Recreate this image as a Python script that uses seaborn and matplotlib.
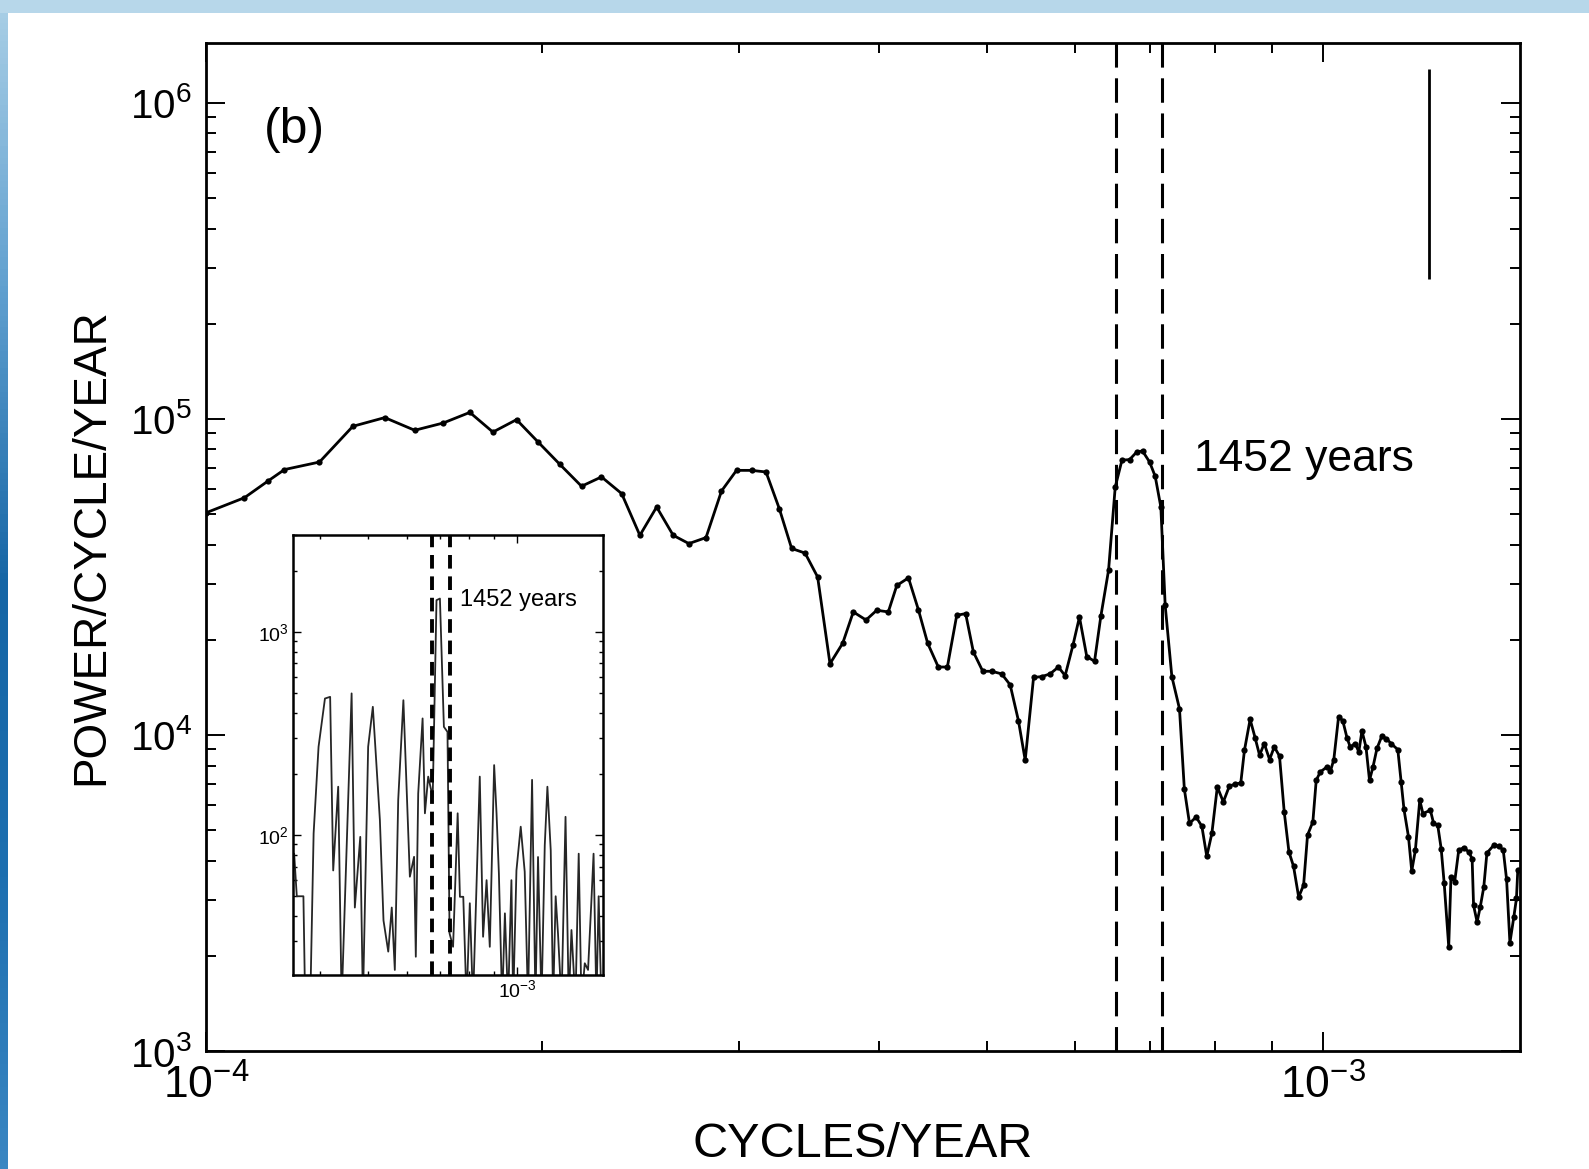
import numpy as np
import matplotlib
matplotlib.use('Agg')
import matplotlib.pyplot as plt
import matplotlib.ticker as mticker
from matplotlib.colors import LinearSegmentedColormap
import seaborn as sns

# Main smoothed spectrum, frequency in units of 1e-4 cycles/year
freq_e4 = [1.00, 1.083, 1.137, 1.176, 1.264, 1.354, 1.446, 1.538, 1.631, 1.723,
           1.807, 1.897, 1.983, 2.074, 2.169, 2.260, 2.356, 2.446, 2.532, 2.620,
           2.706, 2.803, 2.894, 2.985, 3.079, 3.172, 3.260, 3.344, 3.438, 3.528,
           3.619, 3.715, 3.797, 3.898, 3.985, 4.081, 4.153, 4.254, 4.342, 4.426,
           4.524, 4.609, 4.699, 4.786, 4.863, 4.958, 5.051, 5.155, 5.246, 5.336,
           5.411, 5.505, 5.600, 5.696, 5.794, 5.875, 5.970, 6.051, 6.143, 6.242,
           6.323, 6.425, 6.514, 6.605, 6.709, 6.810, 6.891, 6.992, 7.073, 7.156,
           7.220, 7.320, 7.436, 7.511, 7.591, 7.696, 7.787, 7.866, 7.949, 8.039,
           8.139, 8.241, 8.339, 8.437, 8.501, 8.601, 8.689, 8.770, 8.855, 8.953,
           9.040, 9.138, 9.227, 9.317, 9.406, 9.506, 9.603, 9.681, 9.788, 9.856,
           9.940, 10.08, 10.15, 10.22, 10.32, 10.41, 10.50, 10.57, 10.68, 10.76,
           10.83, 10.92, 11.00, 11.08, 11.17, 11.28, 11.39, 11.50, 11.66, 11.74,
           11.81, 11.92, 12.00, 12.09, 12.20, 12.28, 12.47, 12.55, 12.66, 12.75,
           12.83, 12.95, 13.01, 13.11, 13.22, 13.36, 13.49, 13.59, 13.63, 13.73,
           13.82, 13.92, 14.01, 14.21, 14.36, 14.49, 14.59, 14.69, 14.81, 14.89,
           14.93]
power = [5.04e4, 5.63e4, 6.36e4, 6.91e4, 7.30e4, 9.47e4, 1.009e5, 9.20e4, 9.70e4, 1.048e5,
         9.08e4, 9.94e4, 8.45e4, 7.18e4, 6.12e4, 6.55e4, 5.80e4, 4.28e4, 5.26e4, 4.28e4,
         4.03e4, 4.21e4, 5.91e4, 6.87e4, 6.87e4, 6.79e4, 5.20e4, 3.89e4, 3.76e4, 3.16e4,
         1.68e4, 1.95e4, 2.45e4, 2.31e4, 2.48e4, 2.45e4, 2.97e4, 3.14e4, 2.49e4, 1.95e4,
         1.64e4, 1.64e4, 2.39e4, 2.42e4, 1.83e4, 1.59e4, 1.59e4, 1.56e4, 1.44e4, 1.11e4,
         8.32e3, 1.52e4, 1.53e4, 1.56e4, 1.64e4, 1.54e4, 1.92e4, 2.36e4, 1.77e4, 1.71e4,
         2.37e4, 3.32e4, 6.09e4, 7.40e4, 7.43e4, 7.86e4, 7.91e4, 7.30e4, 6.58e4, 5.26e4,
         2.57e4, 1.53e4, 1.21e4, 6.74e3, 5.25e3, 5.50e3, 5.14e3, 4.13e3, 4.88e3, 6.85e3,
         6.14e3, 6.89e3, 6.99e3, 7.05e3, 8.94e3, 1.12e4, 9.81e3, 8.63e3, 9.39e3, 8.36e3,
         9.17e3, 8.57e3, 5.71e3, 4.27e3, 3.84e3, 3.07e3, 3.35e3, 4.82e3, 5.31e3, 7.19e3,
         7.64e3, 7.93e3, 7.69e3, 8.36e3, 1.14e4, 1.11e4, 9.81e3, 9.17e3, 9.39e3, 8.84e3,
         1.03e4, 9.17e3, 7.19e3, 7.93e3, 9.06e3, 9.90e3, 9.74e3, 9.39e3, 8.99e3, 7.10e3,
         5.81e3, 4.76e3, 3.71e3, 4.32e3, 6.22e3, 5.64e3, 5.78e3, 5.27e3, 5.18e3, 4.37e3,
         3.39e3, 2.14e3, 3.56e3, 3.43e3, 4.32e3, 4.40e3, 4.27e3, 4.06e3, 2.89e3, 2.56e3,
         2.86e3, 3.30e3, 4.23e3, 4.48e3, 4.45e3, 4.32e3, 3.49e3, 2.20e3, 2.66e3, 3.04e3,
         3.73e3]

# Inset: raw periodogram (frequency in units of 1e-4)
inset_freq_e4 = [3.554, 3.598, 3.71, 3.74, 3.83, 3.89, 3.98, 4.10, 4.20, 4.26,
                 4.36, 4.43, 4.64, 4.71, 4.83, 4.89, 5.01, 5.12, 5.29, 5.38,
                 5.50, 5.59, 5.67, 5.76, 5.90, 6.08, 6.20, 6.25, 6.32, 6.45,
                 6.52, 6.62, 6.76, 6.88, 6.99, 7.12, 7.24, 7.31, 7.43, 7.59,
                 7.67, 7.79, 7.91, 8.03, 8.15, 8.41, 8.54, 8.68, 8.81, 8.99,
                 9.09, 9.19, 9.33, 9.45, 9.59, 9.74, 9.82, 9.97, 10.17, 10.36,
                 10.52, 10.72, 10.89, 11.02, 11.20, 11.37, 11.51, 11.69, 11.82, 11.96,
                 12.09, 12.29, 12.52, 12.71, 12.87, 13.11, 13.31, 13.48, 13.69, 13.90,
                 14.12, 14.26, 14.45, 14.60, 14.79]
inset_power = [81, 50, 50, 15, 15, 102, 272, 470, 479, 67,
               173, 15, 498, 44, 98, 15, 272, 428, 119, 38,
               26.7, 44, 21.7, 149, 461, 62.4, 78.2, 25.2, 160, 375,
               128, 194, 154, 1432, 1459, 341, 322, 32.8, 28.2, 128,
               49.7, 49.7, 15, 46.2, 15, 194, 31.6, 60, 28.2, 221,
               128, 64.8, 15, 41.2, 15, 60, 15, 67, 110, 66,
               15, 187, 15, 78, 15, 89, 173, 84, 15, 50,
               32.8, 15, 123, 15, 34.1, 15, 81, 15, 23.4, 21.7,
               47.9, 81, 15, 50, 15]

freq = np.array(freq_e4) * 1e-4
inset_freq = np.array(inset_freq_e4) * 1e-4

band = [6.52e-4, 7.18e-4]
inset_band = [6.73e-4, 7.31e-4]
err_x = 1.244e-3
err_range = [2.77e5, 1.276e6]

sns.set_theme(style='ticks')
plt.rcParams['font.family'] = ['Liberation Sans', 'DejaVu Sans']
plt.rcParams['mathtext.fontset'] = 'custom'
plt.rcParams['mathtext.rm'] = 'Liberation Sans'
plt.rcParams['mathtext.it'] = 'Liberation Sans:italic'
plt.rcParams['mathtext.bf'] = 'Liberation Sans:bold'
for key in ['text.color', 'axes.labelcolor', 'xtick.color', 'ytick.color']:
    plt.rcParams[key] = 'black'

fig = plt.figure(figsize=(15.89, 11.69), dpi=100, facecolor='white')

# slide background strips (left gradient, top band)
bg = LinearSegmentedColormap.from_list('bg', ['#a9cfe6', '#5f9fcf', '#1565a5', '#1d6fb0', '#3a86c2'])
left = fig.add_axes([0, 0, 8 / 1589, 1])
left.imshow(np.linspace(0, 1, 200).reshape(-1, 1), aspect='auto', cmap=bg)
left.axis('off')
top = fig.add_axes([0, 1 - 13 / 1169, 1, 13 / 1169])
top.set_facecolor('#b7d7ea')
top.set_xticks([]); top.set_yticks([])
for s in top.spines.values():
    s.set_visible(False)

ax = fig.add_axes([0.1295, 0.1009, 0.8271, 0.8627])
sns.lineplot(x=freq, y=power, ax=ax, color='black', lw=2, marker='o', markersize=4.5,
             markeredgewidth=0, sort=False, estimator=None)
ax.set_xscale('log')
ax.set_yscale('log')
ax.set_xlim(1e-4, 1.5e-3)
ax.set_ylim(1e3, 1.55e6)

for b in band:
    ax.axvline(b, color='black', lw=2.2, dashes=(8, 3.5))
ax.vlines(err_x, err_range[0], err_range[1], color='black', lw=2)

ax.text(0.044, 0.913, '(b)', transform=ax.transAxes, fontsize=36, va='center', ha='left')
ax.text(0.752, 0.587, '1452 years', transform=ax.transAxes, fontsize=32, va='center', ha='left')

ax.set_xlabel('CYCLES/YEAR', fontsize=35, labelpad=10)
ax.set_ylabel('POWER/CYCLE/YEAR', fontsize=33, labelpad=12)
ax.tick_params(which='both', direction='in', top=True, right=True, width=1.4, color='black')
ax.tick_params(which='major', length=14, pad=10)
ax.tick_params(which='minor', length=7)
ax.tick_params(axis='x', labelsize=32)
ax.tick_params(axis='y', labelsize=29)
ax.xaxis.set_minor_formatter(mticker.NullFormatter())
ax.yaxis.set_minor_formatter(mticker.NullFormatter())
for s in ax.spines.values():
    s.set_linewidth(2)
    s.set_color('black')

# inset
ins = fig.add_axes([0.1842, 0.166, 0.1953, 0.3764])
sns.lineplot(x=inset_freq, y=inset_power, ax=ins, color='#262626', lw=1.3,
             sort=False, estimator=None)
ins.set_xscale('log')
ins.set_yscale('log')
ins.set_xlim(3.53e-4, 1.49e-3)
ins.set_ylim(20.5, 3000)
for b in inset_band:
    ins.axvline(b, color='black', lw=2.8, dashes=(3.5, 2))
ins.text(0.539, 0.852, '1452 years', transform=ins.transAxes, fontsize=17, va='center', ha='left')
ins.tick_params(which='both', direction='in', top=True, right=True, width=1, color='black')
ins.tick_params(which='major', length=6, pad=3, labelsize=14)
ins.tick_params(which='minor', length=3)
ins.xaxis.set_minor_formatter(mticker.NullFormatter())
ins.yaxis.set_minor_formatter(mticker.NullFormatter())
for s in ins.spines.values():
    s.set_linewidth(1.8)
    s.set_color('black')

fig.savefig('out.png', dpi=100, facecolor='white')
